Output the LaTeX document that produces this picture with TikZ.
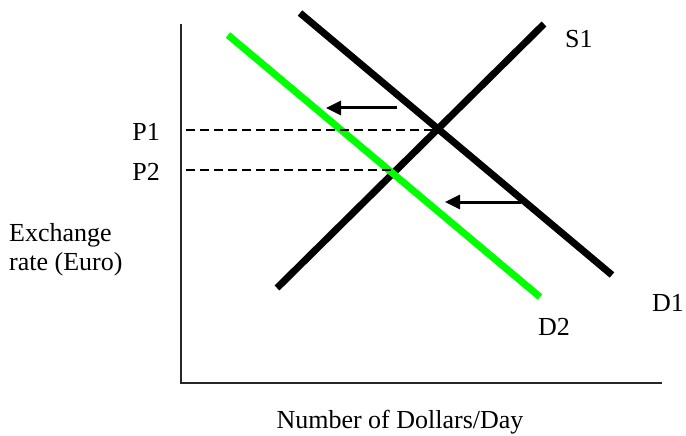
\documentclass[tikz,border=0pt]{standalone}
\usepackage{fontspec}
\setmainfont{Liberation Serif}
\usetikzlibrary{arrows.meta}

\begin{document}
\begin{tikzpicture}[x=1pt, y=-1pt,
  font=\fontsize{26}{29}\selectfont, >={Triangle[length=15pt, width=14pt]},
  curve/.style={line width=7pt, line cap=butt},
  axis/.style={line width=2pt, draw=black!85},
  guide/.style={line width=1.5pt, dash pattern=on 9pt off 5pt},
  shiftarrow/.style={->, line width=3pt},
  lab/.style={inner sep=0pt}]
  \useasboundingbox (0,0) rectangle (686,436);
  % axes
  \coordinate (top) at (181,24);
  \coordinate (origin) at (181,383);
  \coordinate (right) at (662,383);
  \draw[axis] (top) -- (origin) -- (right);
  % curves
  \coordinate (s1a) at (277,288);
  \coordinate (s1b) at (544,24);
  \coordinate (d1a) at (300,13);
  \coordinate (d1b) at (612,275);
  \coordinate (d2a) at (228,35);
  \coordinate (d2b) at (540,297);
  \draw[curve] (d1a) -- (d1b);
  \draw[curve] (s1a) -- (s1b);
  \draw[curve, draw={rgb,255:red,0;green,255;blue,0}] (d2a) -- (d2b);
  % prices
  \node[lab, anchor=east] (p1) at (160,132) {P1};
  \node[lab, anchor=east] (p2) at (160,172) {P2};
  \coordinate (e1) at (437,130);
  \coordinate (e2) at (392,170);
  \draw[guide] (186,130) coordinate (g1) -- (e1);
  \draw[guide] (186,170) coordinate (g2) -- (e2);
  % shift arrows
  \coordinate (a1) at (397,108);
  \coordinate (a1t) at (326,108);
  \coordinate (a2) at (521,202);
  \coordinate (a2t) at (445,202);
  \draw[shiftarrow] (a1) -- (a1t);
  \draw[shiftarrow] (a2) -- (a2t);
  % labels
  \node[lab, anchor=west] (s1) at (565,39) {S1};
  \node[lab, anchor=east] (d1) at (684,303) {D1};
  \node[lab, anchor=west] (d2) at (538,327) {D2};
  \node[lab, anchor=west, align=left] (ylab) at (9,250) {Exchange\\rate (Euro)};
  \node[lab] (xlab) at (400,422) {Number of Dollars/Day};
\end{tikzpicture}
\end{document}
